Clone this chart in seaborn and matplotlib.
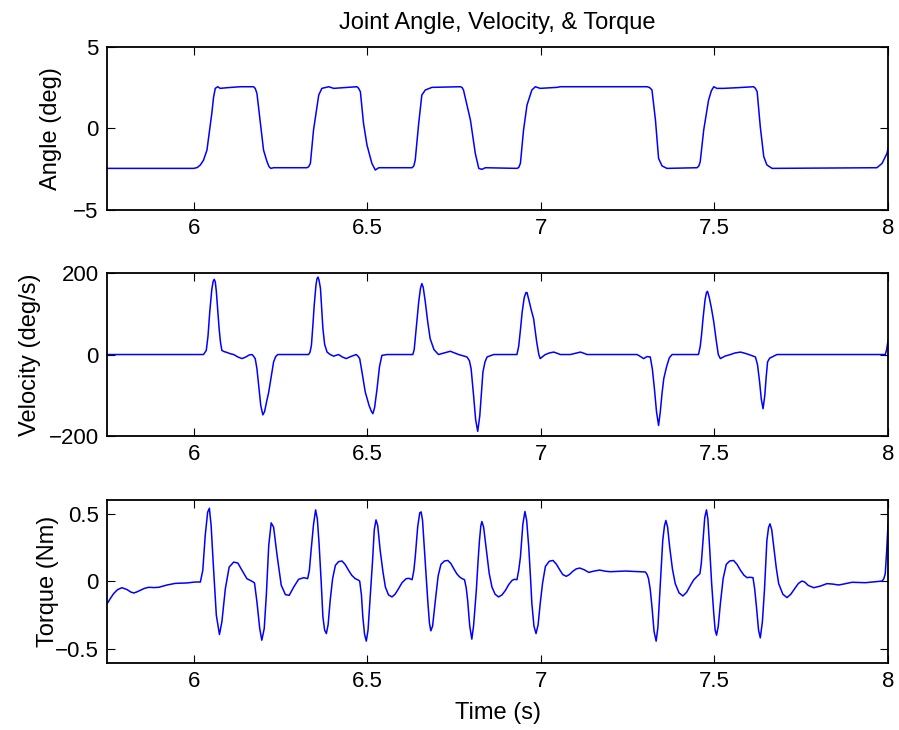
import numpy as np
import pandas as pd
import matplotlib
matplotlib.use("Agg")
import matplotlib.pyplot as plt
import seaborn as sns

# Joint angle (deg) samples: (time s, angle)
angle_pts = [
    (5.750, -2.45), (6.000, -2.45), (6.010, -2.40), (6.019, -2.24), (6.028, -1.95),
    (6.038, -1.33), (6.045, -0.20), (6.052, 0.92), (6.057, 1.90), (6.062, 2.45),
    (6.069, 2.55), (6.076, 2.45), (6.096, 2.49), (6.134, 2.55), (6.172, 2.55),
    (6.177, 2.45), (6.182, 2.14), (6.192, 0.31), (6.201, -1.33), (6.211, -2.04),
    (6.217, -2.35), (6.222, -2.45), (6.230, -2.41), (6.326, -2.41), (6.331, -2.35),
    (6.336, -2.14), (6.345, -0.10), (6.360, 2.04), (6.369, 2.45), (6.389, 2.55),
    (6.403, 2.45), (6.470, 2.55), (6.475, 2.45), (6.480, 2.24), (6.489, 0.31),
    (6.499, -1.02), (6.513, -2.14), (6.523, -2.55), (6.533, -2.41), (6.629, -2.41),
    (6.634, -2.30), (6.638, -1.94), (6.648, 0.31), (6.657, 2.04), (6.667, 2.35),
    (6.686, 2.51), (6.768, 2.55), (6.773, 2.50), (6.777, 2.35), (6.797, 0.51),
    (6.811, -1.53), (6.821, -2.45), (6.830, -2.51), (6.840, -2.41), (6.931, -2.45),
    (6.936, -2.40), (6.941, -2.14), (6.950, -0.10), (6.960, 1.43), (6.974, 2.35),
    (6.984, 2.55), (6.998, 2.45), (7.046, 2.51), (7.056, 2.55), (7.306, 2.55),
    (7.313, 2.50), (7.320, 2.35), (7.330, 0.51), (7.339, -1.84), (7.349, -2.30),
    (7.363, -2.45), (7.450, -2.41), (7.455, -2.30), (7.459, -2.04), (7.469, -0.10),
    (7.483, 1.73), (7.491, 2.30), (7.498, 2.55), (7.507, 2.45), (7.527, 2.45),
    (7.565, 2.49), (7.613, 2.55), (7.618, 2.45), (7.623, 2.24), (7.632, 0.10),
    (7.642, -1.73), (7.651, -2.24), (7.666, -2.45), (7.968, -2.41), (7.983, -2.14),
    (7.997, -1.53), (8.000, -1.22),
]

# Joint velocity (deg/s) samples
velocity_pts = [
    (5.750, 0), (6.028, 0), (6.036, 10), (6.041, 45), (6.046, 104),
    (6.052, 160), (6.056, 180), (6.059, 184.5), (6.062, 178), (6.065, 155),
    (6.069, 110), (6.073, 64), (6.077, 30), (6.081, 10), (6.088, 7),
    (6.096, 5), (6.105, 2), (6.115, 0), (6.127, -6), (6.139, -10),
    (6.150, -6), (6.160, -1), (6.168, 0), (6.172, -4), (6.177, -10),
    (6.182, -35), (6.187, -75), (6.193, -125), (6.199, -148), (6.204, -140),
    (6.210, -115), (6.216, -92), (6.223, -55), (6.230, -18), (6.236, -5),
    (6.242, 0), (6.331, 0), (6.335, 6), (6.339, 23), (6.343, 70),
    (6.347, 121), (6.352, 170), (6.355, 186), (6.358, 190), (6.361, 182),
    (6.365, 162), (6.368, 120), (6.372, 64), (6.377, 25), (6.384, 6),
    (6.393, 0), (6.403, -4), (6.410, -2), (6.417, 0), (6.428, -6),
    (6.439, -10), (6.452, -5), (6.468, 0), (6.473, -4), (6.478, -10),
    (6.485, -45), (6.494, -92), (6.505, -125), (6.512, -140), (6.516, -145),
    (6.521, -130), (6.528, -84), (6.535, -30), (6.542, -2), (6.557, 0),
    (6.631, 0), (6.635, 12), (6.638, 39), (6.643, 85), (6.648, 129),
    (6.653, 162), (6.657, 174), (6.661, 165), (6.667, 129), (6.674, 80),
    (6.681, 39), (6.692, 12), (6.705, 0), (6.722, 4), (6.739, 8),
    (6.751, 4), (6.763, 0), (6.787, -6), (6.794, -15), (6.799, -35),
    (6.806, -100), (6.812, -160), (6.818, -188.5), (6.824, -150), (6.829, -90),
    (6.833, -43), (6.839, -18), (6.845, -6), (6.864, 0), (6.931, 0),
    (6.936, 20), (6.941, 60), (6.946, 104), (6.952, 140), (6.957, 152),
    (6.960, 152), (6.965, 135), (6.972, 110), (6.979, 88), (6.988, 30),
    (6.994, 0), (6.998, -10), (7.005, -5), (7.013, 0), (7.025, 4),
    (7.037, 6), (7.047, 3), (7.056, 0), (7.085, 0), (7.100, 3),
    (7.114, 6), (7.124, 3), (7.133, 0), (7.277, 0), (7.287, -5),
    (7.296, -10), (7.306, -5), (7.315, -6), (7.321, -35), (7.327, -84),
    (7.333, -140), (7.339, -174), (7.344, -140), (7.349, -95), (7.354, -59),
    (7.362, -30), (7.370, -8), (7.378, 0), (7.454, 0), (7.459, 20),
    (7.463, 50), (7.467, 88), (7.473, 135), (7.477, 152), (7.480, 155),
    (7.485, 140), (7.491, 115), (7.498, 80), (7.505, 35), (7.511, 0),
    (7.517, -10), (7.530, -4), (7.546, 0), (7.560, 4), (7.575, 6),
    (7.588, 3), (7.599, 0), (7.618, -6), (7.624, -25), (7.630, -67),
    (7.635, -110), (7.640, -133), (7.645, -100), (7.649, -55), (7.653, -18),
    (7.659, -9), (7.666, -6), (7.680, 0), (7.992, 0), (7.996, 12),
    (8.000, 35),
]

# Joint torque (Nm) samples
torque_pts = [
    (5.752, -0.159), (5.760, -0.125), (5.769, -0.091), (5.780, -0.062), (5.793, -0.047),
    (5.808, -0.061), (5.818, -0.078), (5.827, -0.086), (5.836, -0.078), (5.846, -0.066),
    (5.858, -0.052), (5.870, -0.044), (5.885, -0.046), (5.899, -0.044), (5.923, -0.027),
    (5.947, -0.015), (5.980, -0.012), (6.004, -0.005), (6.019, -0.005), (6.026, 0.081),
    (6.033, 0.338), (6.040, 0.510), (6.045, 0.539), (6.050, 0.412), (6.057, 0.093),
    (6.065, -0.250), (6.074, -0.392), (6.081, -0.299), (6.091, -0.054), (6.102, 0.105),
    (6.115, 0.142), (6.127, 0.135), (6.139, 0.081), (6.153, 0.020), (6.168, 0.000),
    (6.175, -0.012), (6.182, -0.152), (6.190, -0.348), (6.196, -0.434), (6.203, -0.348),
    (6.209, -0.103), (6.216, 0.265), (6.223, 0.431), (6.230, 0.400), (6.240, 0.191),
    (6.252, -0.029), (6.264, -0.098), (6.275, -0.103), (6.288, -0.042), (6.302, 0.015),
    (6.317, 0.027), (6.328, 0.020), (6.333, 0.080), (6.338, 0.228), (6.345, 0.420),
    (6.351, 0.527), (6.356, 0.460), (6.361, 0.277), (6.367, 0.000), (6.372, -0.262),
    (6.377, -0.360), (6.382, -0.385), (6.387, -0.320), (6.393, -0.140), (6.400, 0.020),
    (6.408, 0.118), (6.417, 0.145), (6.427, 0.150), (6.436, 0.125), (6.446, 0.081),
    (6.455, 0.045), (6.465, 0.020), (6.472, 0.012), (6.478, 0.002), (6.483, -0.100),
    (6.487, -0.262), (6.492, -0.390), (6.497, -0.441), (6.502, -0.360), (6.508, -0.120),
    (6.515, 0.150), (6.520, 0.380), (6.525, 0.453), (6.530, 0.410), (6.537, 0.228),
    (6.545, 0.070), (6.552, -0.042), (6.561, -0.100), (6.571, -0.115), (6.580, -0.095),
    (6.590, -0.054), (6.600, -0.010), (6.612, 0.020), (6.620, 0.022), (6.629, 0.012),
    (6.634, 0.080), (6.638, 0.179), (6.645, 0.400), (6.651, 0.505), (6.655, 0.512),
    (6.659, 0.450), (6.664, 0.252), (6.669, 0.050), (6.674, -0.140), (6.679, -0.310),
    (6.683, -0.365), (6.688, -0.330), (6.696, -0.140), (6.704, 0.040), (6.712, 0.125),
    (6.722, 0.150), (6.732, 0.154), (6.741, 0.130), (6.749, 0.093), (6.758, 0.055),
    (6.766, 0.032), (6.773, 0.020), (6.780, 0.012), (6.785, -0.050), (6.789, -0.140),
    (6.795, -0.330), (6.801, -0.426), (6.806, -0.330), (6.814, -0.066), (6.819, 0.150),
    (6.823, 0.301), (6.827, 0.410), (6.830, 0.441), (6.835, 0.400), (6.843, 0.228),
    (6.851, 0.060), (6.859, -0.042), (6.868, -0.095), (6.878, -0.115), (6.888, -0.100),
    (6.898, -0.066), (6.907, -0.025), (6.917, 0.007), (6.924, 0.015), (6.931, 0.012),
    (6.936, 0.080), (6.941, 0.179), (6.948, 0.420), (6.954, 0.515), (6.959, 0.450),
    (6.965, 0.252), (6.970, 0.030), (6.974, -0.164), (6.980, -0.330), (6.986, -0.385),
    (6.992, -0.320), (6.998, -0.164), (7.005, -0.010), (7.013, 0.110), (7.024, 0.148),
    (7.035, 0.154), (7.045, 0.125), (7.054, 0.086), (7.063, 0.050), (7.073, 0.037),
    (7.082, 0.050), (7.092, 0.074), (7.102, 0.092), (7.112, 0.098), (7.125, 0.085),
    (7.138, 0.066), (7.152, 0.075), (7.169, 0.083), (7.185, 0.075), (7.200, 0.071),
    (7.243, 0.076), (7.301, 0.069), (7.306, 0.050), (7.310, 0.020), (7.315, -0.060),
    (7.320, -0.189), (7.326, -0.370), (7.332, -0.441), (7.337, -0.340), (7.342, -0.115),
    (7.347, 0.120), (7.351, 0.301), (7.356, 0.410), (7.360, 0.449), (7.365, 0.400),
    (7.371, 0.252), (7.379, 0.090), (7.387, -0.017), (7.398, -0.085), (7.409, -0.108),
    (7.420, -0.080), (7.431, -0.029), (7.440, 0.010), (7.450, 0.037), (7.458, 0.056),
    (7.462, 0.130), (7.467, 0.301), (7.472, 0.470), (7.477, 0.527), (7.481, 0.460),
    (7.486, 0.252), (7.492, -0.020), (7.498, -0.238), (7.502, -0.360), (7.506, -0.397),
    (7.511, -0.330), (7.517, -0.164), (7.525, 0.020), (7.534, 0.125), (7.544, 0.150),
    (7.555, 0.154), (7.565, 0.125), (7.575, 0.081), (7.585, 0.045), (7.594, 0.027),
    (7.602, 0.030), (7.611, 0.027), (7.616, -0.060), (7.621, -0.189), (7.627, -0.360),
    (7.632, -0.417), (7.638, -0.300), (7.644, -0.066), (7.648, 0.150), (7.651, 0.301),
    (7.656, 0.400), (7.660, 0.424), (7.665, 0.380), (7.671, 0.252), (7.678, 0.100),
    (7.685, -0.017), (7.697, -0.095), (7.709, -0.120), (7.720, -0.095), (7.731, -0.054),
    (7.742, -0.015), (7.752, 0.002), (7.760, -0.005), (7.770, -0.030), (7.786, -0.047),
    (7.805, -0.035), (7.824, -0.017), (7.840, -0.020), (7.858, -0.027), (7.876, -0.018),
    (7.896, -0.007), (7.935, -0.010), (7.983, 0.002), (7.988, 0.020), (7.992, 0.056),
    (7.996, 0.220), (8.000, 0.424),
]

x_ticks = [6, 6.5, 7, 7.5, 8]
x_tick_labels = ["6", "6.5", "7", "7.5", "8"]
angle_ticks = [-5, 0, 5]
angle_tick_labels = ["\u22125", "0", "5"]
velocity_ticks = [-200, 0, 200]
velocity_tick_labels = ["\u2212200", "0", "200"]
torque_ticks = [-0.5, 0, 0.5]
torque_tick_labels = ["\u22120.5", "0", "0.5"]

sns.set_theme(style="white")
plt.rcParams["font.family"] = ["Liberation Sans", "DejaVu Sans"]
plt.rcParams["text.color"] = "black"
plt.rcParams["axes.labelcolor"] = "black"
plt.rcParams["xtick.color"] = "black"
plt.rcParams["ytick.color"] = "black"

TICK_FS = 16
LABEL_FS = 17
fig = plt.figure(figsize=(8.99, 7.3), dpi=100)

panels = [
    (angle_pts, "Angle (deg)", (-5, 5), angle_ticks, angle_tick_labels,
     [0.1190, 0.7123, 0.8688, 0.2237], -0.058),
    (velocity_pts, "Velocity (deg/s)", (-200, 200), velocity_ticks, velocity_tick_labels,
     [0.1190, 0.4027, 0.8688, 0.2233], -0.085),
    (torque_pts, "Torque (Nm)", (-0.6, 0.6), torque_ticks, torque_tick_labels,
     [0.1190, 0.0922, 0.8688, 0.2229], -0.062),
]

axes = []
for pts, label, ylim, yticks, ytick_labels, rect, label_x in panels:
    ax = fig.add_axes(rect)
    df = pd.DataFrame(pts, columns=["t", "v"])
    sns.lineplot(data=df, x="t", y="v", ax=ax, color="#0000ff",
                 linewidth=1.1, estimator=None, sort=False)
    ax.set_xlim(5.75, 8)
    ax.set_ylim(*ylim)
    ax.set_xticks(x_ticks)
    ax.set_xticklabels(x_tick_labels)
    ax.set_yticks(yticks)
    ax.set_yticklabels(ytick_labels)
    ax.set_ylabel(label, fontsize=LABEL_FS)
    ax.yaxis.set_label_coords(label_x, 0.5)
    ax.set_xlabel("")
    ax.tick_params(direction="in", length=6, width=0.8, labelsize=TICK_FS,
                   top=True, right=True, bottom=True, left=True, pad=6)
    for s in ax.spines.values():
        s.set_visible(True)
        s.set_color("black")
        s.set_linewidth(1.3)
    axes.append(ax)

axes[0].set_title("Joint Angle, Velocity, & Torque", fontsize=LABEL_FS, pad=13)
axes[2].set_xlabel("Time (s)", fontsize=LABEL_FS, labelpad=7)

fig.savefig("out.png", dpi=100, facecolor="white")
